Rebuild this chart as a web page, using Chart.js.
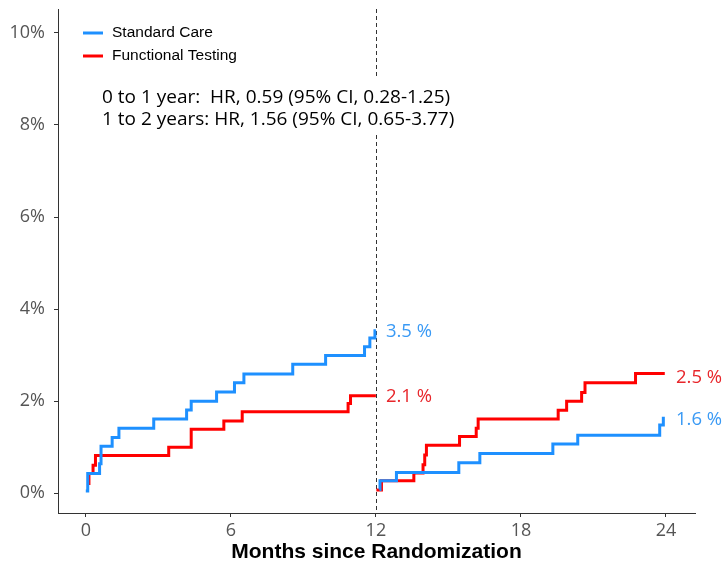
<!DOCTYPE html>
<html>
<head>
<meta charset="utf-8">
<script src="https://cdn.jsdelivr.net/npm/chart.js@4/dist/chart.umd.min.js"></script>
<style>
  html, body { margin: 0; padding: 0; background: #fff; }
  #wrap { width: 728px; height: 566px; position: relative; }
</style>
</head>
<body>
<div id="wrap"><canvas id="km"></canvas></div>
<script>
// Kaplan-Meier Stufen (Monate, kumulative Ereignisrate in %)
const scYear1Months = [0.0, 0.08, 0.57, 0.63, 1.09, 1.37, 2.81, 4.17, 4.36, 5.41, 6.15, 6.54, 8.56, 9.92, 11.53, 11.75, 11.96, 12.0];
const scYear1Values = [0.05, 0.43, 0.64, 1.02, 1.21, 1.41, 1.61, 1.81, 2.0, 2.2, 2.4, 2.59, 2.8, 2.99, 3.18, 3.37, 3.53, 3.53];
const ftYear1Months = [0.12, 0.13, 0.3, 0.4, 3.43, 4.36, 5.71, 6.47, 10.85, 10.95, 12.0];
const ftYear1Values = [0.21, 0.43, 0.61, 0.82, 1.0, 1.39, 1.57, 1.77, 1.95, 2.12, 2.12];
const scYear2Months = [12.15, 12.17, 12.85, 15.43, 16.3, 19.32, 20.35, 23.74, 23.89];
const scYear2Values = [0.08, 0.27, 0.45, 0.66, 0.86, 1.07, 1.26, 1.48, 1.66];
const ftYear2Months = [12.02, 12.23, 13.57, 13.95, 14.02, 14.09, 15.46, 16.15, 16.23, 19.54, 19.89, 20.51, 20.65, 22.74, 23.95];
const ftYear2Values = [0.07, 0.27, 0.44, 0.62, 0.83, 1.04, 1.23, 1.41, 1.61, 1.8, 2.0, 2.19, 2.4, 2.6, 2.6];

const xTicks = [0, 6, 12, 18, 24];
const yTicks = [0, 2, 4, 6, 8, 10];
const groups = ["Standard Care", "Functional Testing"];
const hrLines = ["0 to 1 year:  HR, 0.59 (95% CI, 0.28-1.25)", "1 to 2 years: HR, 1.56 (95% CI, 0.65-3.77)"];
const endLabels = [
  { x: 12, y: 3.5, text: "3.5 %", group: 0 },
  { x: 12, y: 2.1, text: "2.1 %", group: 1 },
  { x: 24, y: 2.5, text: "2.5 %", group: 1 },
  { x: 24, y: 1.6, text: "1.6 %", group: 0 }
];

const colors = ["#1E90FF", "#FF0000"];
const labelColors = ["#3a9af5", "#e8262b"];

function toPoints(months, values) {
  return months.map((m, i) => ({ x: m, y: values[i] }));
}

function stepSet(months, values, group) {
  return {
    label: groups[group],
    data: toPoints(months, values),
    borderColor: colors[group],
    borderWidth: 3,
    pointRadius: 0,
    stepped: 'before',
    fill: false
  };
}

// Zusatzbeschriftungen: Trennlinie, Legende, HR-Text, Endwerte
const extras = {
  id: 'extras',
  beforeDatasetsDraw(chart) {
    const ctx = chart.ctx;
    const xs = chart.scales.x;
    const area = chart.chartArea;
    const x12 = Math.round(xs.getPixelForValue(12)) + 0.5;
    ctx.save();
    ctx.strokeStyle = '#333';
    ctx.lineWidth = 1;
    ctx.setLineDash([4, 3]);
    ctx.beginPath();
    ctx.moveTo(x12, area.top);
    ctx.lineTo(x12, area.bottom);
    ctx.stroke();
    ctx.restore();
  },
  afterDatasetsDraw(chart) {
    const ctx = chart.ctx;
    const xs = chart.scales.x;
    const ys = chart.scales.y;
    ctx.save();

    // Legende
    ctx.font = '15.5px "Liberation Sans", Arial, sans-serif';
    ctx.textBaseline = 'middle';
    groups.forEach((g, i) => {
      const y = 33 + i * 23;
      ctx.strokeStyle = colors[i];
      ctx.lineWidth = 3;
      ctx.beginPath();
      ctx.moveTo(83, y);
      ctx.lineTo(103, y);
      ctx.stroke();
      ctx.fillStyle = '#000';
      ctx.fillText(g, 112, y);
    });

    // HR-Text mit weissem Hintergrund
    ctx.fillStyle = '#fff';
    ctx.fillRect(96, 77, 364, 58);
    ctx.font = '19px "Open Sans", "Noto Sans", sans-serif';
    ctx.fillStyle = '#000';
    hrLines.forEach((t, i) => {
      ctx.fillText(t, 102, 98 + i * 22);
    });

    // Endwerte
    ctx.font = '18.5px "Open Sans", "Noto Sans", sans-serif';
    endLabels.forEach(l => {
      ctx.fillStyle = labelColors[l.group];
      ctx.fillText(l.text, xs.getPixelForValue(l.x) + 10, ys.getPixelForValue(l.y));
    });
    ctx.restore();
  }
};

new Chart(document.getElementById('km'), {
  type: 'line',
  data: {
    datasets: [
      stepSet(scYear1Months, scYear1Values, 0),
      stepSet(ftYear1Months, ftYear1Values, 1),
      stepSet(scYear2Months, scYear2Values, 0),
      stepSet(ftYear2Months, ftYear2Values, 1)
    ]
  },
  options: {
    responsive: true,
    maintainAspectRatio: false,
    animation: false,
    layout: { padding: { top: 9, right: 33, left: 0, bottom: 0 } },
    plugins: {
      legend: { display: false },
      tooltip: { enabled: false }
    },
    scales: {
      x: {
        type: 'linear',
        min: -1.15,
        max: 25.2,
        afterBuildTicks: s => { s.ticks = xTicks.map(v => ({ value: v })); },
        afterFit: s => { s.height = 53; s.paddingLeft = 0; s.paddingRight = 0; },
        grid: { display: true, drawOnChartArea: false, drawTicks: true, tickLength: 4, color: '#333' },
        border: { display: true, color: '#333', width: 1 },
        ticks: {
          color: '#555',
          padding: 3,
          maxRotation: 0,
          font: { family: '"Open Sans", "Noto Sans", sans-serif', size: 18 }
        },
        title: {
          display: true,
          text: 'Months since Randomization',
          color: '#000',
          padding: { top: 0, bottom: 1 },
          font: { family: '"Liberation Sans", Arial, sans-serif', size: 21, weight: 'bold' }
        }
      },
      y: {
        type: 'linear',
        min: -0.43,
        max: 10.52,
        afterBuildTicks: s => { s.ticks = yTicks.map(v => ({ value: v })); },
        afterFit: s => { s.width = 58; s.paddingTop = 0; s.paddingBottom = 0; },
        grid: { display: true, drawOnChartArea: false, drawTicks: true, tickLength: 4, color: '#333' },
        border: { display: true, color: '#333', width: 1 },
        ticks: {
          color: '#555',
          padding: 9,
          font: { family: '"Open Sans", "Noto Sans", sans-serif', size: 18 },
          callback: v => v + '%'
        }
      }
    }
  },
  plugins: [extras]
});
</script>
</body>
</html>
